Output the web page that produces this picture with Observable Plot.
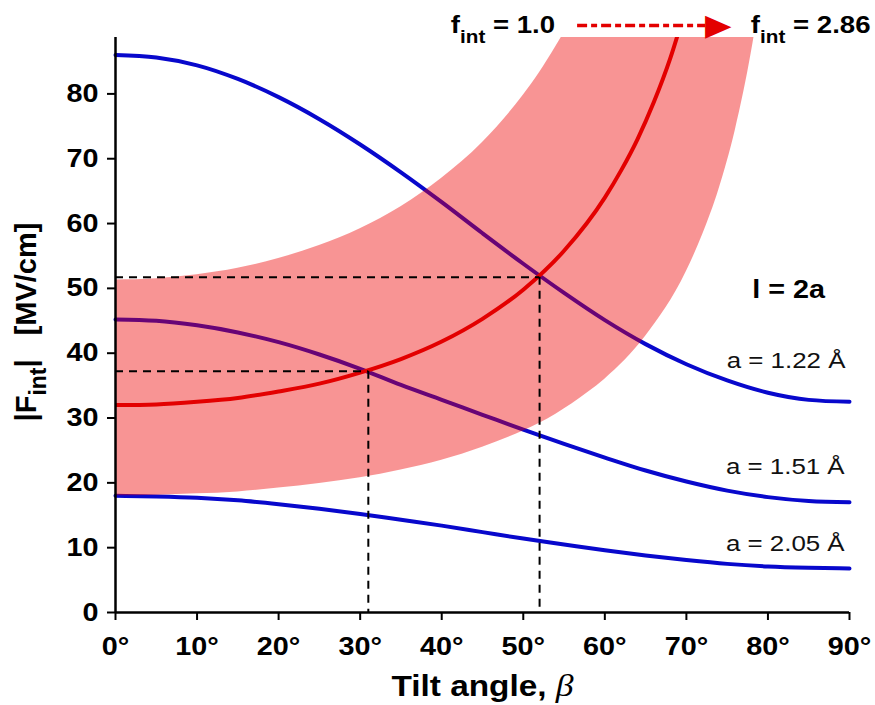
<!DOCTYPE html>
<html><head><meta charset="utf-8">
<script src="https://cdn.jsdelivr.net/npm/d3@7"></script>
<script src="https://cdn.jsdelivr.net/npm/@observablehq/plot@0.6"></script>
<style>
body{margin:0;background:#fff;}
#chart svg{display:block;}
#chart svg g[aria-label*="tick"] path{stroke-width:2px;}
</style></head><body><div id="chart"></div>
<script>
// ---- data ----
const angleTicks = [0,10,20,30,40,50,60,70,80,90];
const fieldTicks = [0,10,20,30,40,50,60,70,80];

const blueAngles = [0,5,10,15,20,25,30,35,40,45,50,55,60,65,70,75,80,85,90];
const fieldA122 = [86.0,85.6,84.4,82.3,79.5,76.1,72.2,67.9,63.3,58.5,53.8,49.3,45.1,41.4,38.3,35.8,33.9,32.8,32.5];
const fieldA151 = [45.2,45.0,44.3,43.2,41.7,39.8,37.6,35.1,32.8,30.5,28.2,26.0,23.9,21.9,20.2,18.8,17.8,17.2,17.0];
const fieldA205 = [18.0,17.9,17.7,17.3,16.7,16.0,15.2,14.3,13.4,12.4,11.4,10.5,9.6,8.8,8.1,7.5,7.1,6.9,6.8];

const redAngles = [0,5,10,15,20,25,30,35,40,45,50,55,60,62,64,66,68,70];
const redField  = [32.0,32.1,32.5,33.1,34.1,35.3,37.0,39.1,41.8,45.3,49.8,55.8,64.0,68.2,73.0,78.7,85.4,93.6];

const bandAngles = [0,5,10,15,20,25,30,35,40,45,50,52,54,56,58,60,65,70,72,74,76,78,79];
const bandLow  = [18.0,18.1,18.3,18.6,19.2,19.9,20.8,22.0,23.5,25.5,28.0,29.2,30.6,32.2,34.0,36.0,42.6,52.6,58.3,65.3,74.4,86.6,94.3];
const bandHigh = [51.3,51.5,52.1,53.1,54.6,56.6,59.2,62.6,67.0,72.5,79.8,83.3,87.3,91.7,96.8,102.6,121.4,150.0,166.0,186.1,212.1,246.8,268.9];

const crossAngles = [31, 52];
const crossFields = [37.2, 51.7];

const seriesNames = ["a = 1.22 Å", "a = 1.51 Å", "a = 2.05 Å"];
const seriesValues = [fieldA122, fieldA151, fieldA205];

// ---- tables ----
const blueRows = seriesNames.flatMap((s, k) => seriesValues[k].map((v, i) => ({series: s, angle: blueAngles[i], field: v})));
const redRows = redAngles.map((a, i) => ({angle: a, field: redField[i]}));
const bandRows = bandAngles.map((a, i) => ({angle: a, low: bandLow[i], high: bandHigh[i]}));
const crossRows = crossAngles.map((a, i) => ({angle: a, field: crossFields[i], zero: 0}));

const labelRows = [
  {x: 89.5, y: 38.9, text: seriesNames[0]},
  {x: 89.4, y: 22.4, text: seriesNames[1]},
  {x: 89.4, y: 10.6, text: seriesNames[2]}
];

const BLUE = "#0808cc", RED = "#e30000", BAND = "#ee0000";
const FONT = "'Liberation Sans', Arial, Helvetica, sans-serif";

const plot = Plot.plot({
  width: 875, height: 705,
  marginLeft: 115, marginRight: 26, marginTop: 37, marginBottom: 93,
  style: {fontFamily: FONT, fontSize: "25px", fontWeight: "bold", color: "#000", background: "#fff", overflow: "visible"},
  x: {domain: [0, 90], ticks: angleTicks, tickFormat: d => d + "°", tickSize: 8, tickPadding: 17, label: null},
  y: {domain: [0, 88.7], ticks: fieldTicks, tickSize: 8, tickPadding: 9, label: null},
  marks: [
    Plot.line(blueRows, {x: "angle", y: "field", z: "series", stroke: BLUE, strokeWidth: 4, curve: "monotone-x"}),
    Plot.areaY(bandRows, {x: "angle", y1: "low", y2: "high", fill: BAND, fillOpacity: 0.42, curve: "monotone-x", clip: true}),
    Plot.line(redRows, {x: "angle", y: "field", stroke: RED, strokeWidth: 4, curve: "monotone-x", clip: true}),
    Plot.ruleY(crossRows, {y: "field", x1: "zero", x2: "angle", stroke: "#000", strokeWidth: 2, strokeDasharray: "8,6"}),
    Plot.ruleX(crossRows, {x: "angle", y1: "field", y2: "zero", stroke: "#000", strokeWidth: 2, strokeDasharray: "8,6"}),
    Plot.ruleX([0], {stroke: "#000", strokeWidth: 2.5}),
    Plot.ruleY([0], {stroke: "#000", strokeWidth: 2.5}),
    Plot.text(labelRows, {x: "x", y: "y", text: "text", textAnchor: "end", fontSize: 22.5, fontWeight: "normal", fill: "#111"}),
    Plot.text(["l = 2a"], {x: 87.0, y: 49.7, textAnchor: "end", fontSize: 25, fontWeight: "bold"}),
    Plot.text(["f_int = 1.0"], {x: 53.9, y: 90.6, textAnchor: "end", fontSize: 24, fontWeight: "bold"}),
    Plot.text(["f_int = 2.86"], {x: 77.9, y: 90.6, textAnchor: "start", fontSize: 24, fontWeight: "bold"}),
    Plot.link([{a: 56.6, b: 72.3, y: 90.55}], {x1: "a", x2: "b", y1: "y", y2: "y", stroke: RED, strokeWidth: 3.5, strokeDasharray: "10,4,6,4"}),
    Plot.text(["▶"], {x: 73.9, y: 90.55, fill: RED, fontSize: 30, fontFamily: "DejaVu Sans", fontWeight: "normal"}),
    Plot.text(["Tilt angle, β"], {frameAnchor: "bottom", lineAnchor: "middle", dy: 74, fontSize: 29, fontWeight: "bold"}),
    Plot.text(["|F_int| [MV/cm]"], {frameAnchor: "left", textAnchor: "middle", lineAnchor: "middle", dx: -89, dy: -3, rotate: -90, fontSize: 29, fontWeight: "bold"})
  ]
});
document.getElementById("chart").appendChild(plot);

// ---- rich text (subscripts / italic beta) ----
const svg = d3.select(plot);
function rebuild(el, parts) {
  const t = d3.select(el);
  t.text(null);
  for (const p of parts) {
    const s = t.append("tspan").text(p.s);
    if (p.size) s.attr("font-size", p.size);
    if (p.dy) s.attr("dy", p.dy);
    if (p.dx) s.attr("dx", p.dx);
    if (p.style) s.attr("font-style", p.style);
    if (p.family) s.attr("font-family", p.family);
    if (p.weight) s.attr("font-weight", p.weight);
  }
}
svg.selectAll("text").each(function() {
  const c = this.textContent;
  if (c === "f_int = 1.0" || c === "f_int = 2.86") {
    rebuild(this, [{s: "f"}, {s: "int", size: 18, dy: 10}, {s: c.slice(5), dy: -10}]);
  } else if (c === "|F_int| [MV/cm]") {
    rebuild(this, [{s: "|F"}, {s: "int", size: 23, dy: 10}, {s: "|", dy: -10}, {s: "[MV/cm]", dx: 24}]);
  } else if (c === "Tilt angle, β") {
    rebuild(this, [{s: "Tilt angle, "}, {s: "β", style: "italic", family: "'Liberation Serif', 'DejaVu Serif', serif", weight: "normal", size: 31}]);
  }
});
// widen non-rotated lettering in place (the reference's type is horizontally wide)
svg.selectAll("text").each(function() {
  const tr = this.getAttribute("transform") || "";
  if (tr.includes("rotate")) return;
  const w = this.getComputedTextLength();
  if (w > 0) {
    this.setAttribute("textLength", (w * 1.15).toFixed(1));
    this.setAttribute("lengthAdjust", "spacingAndGlyphs");
  }
});
</script>
</body></html>
